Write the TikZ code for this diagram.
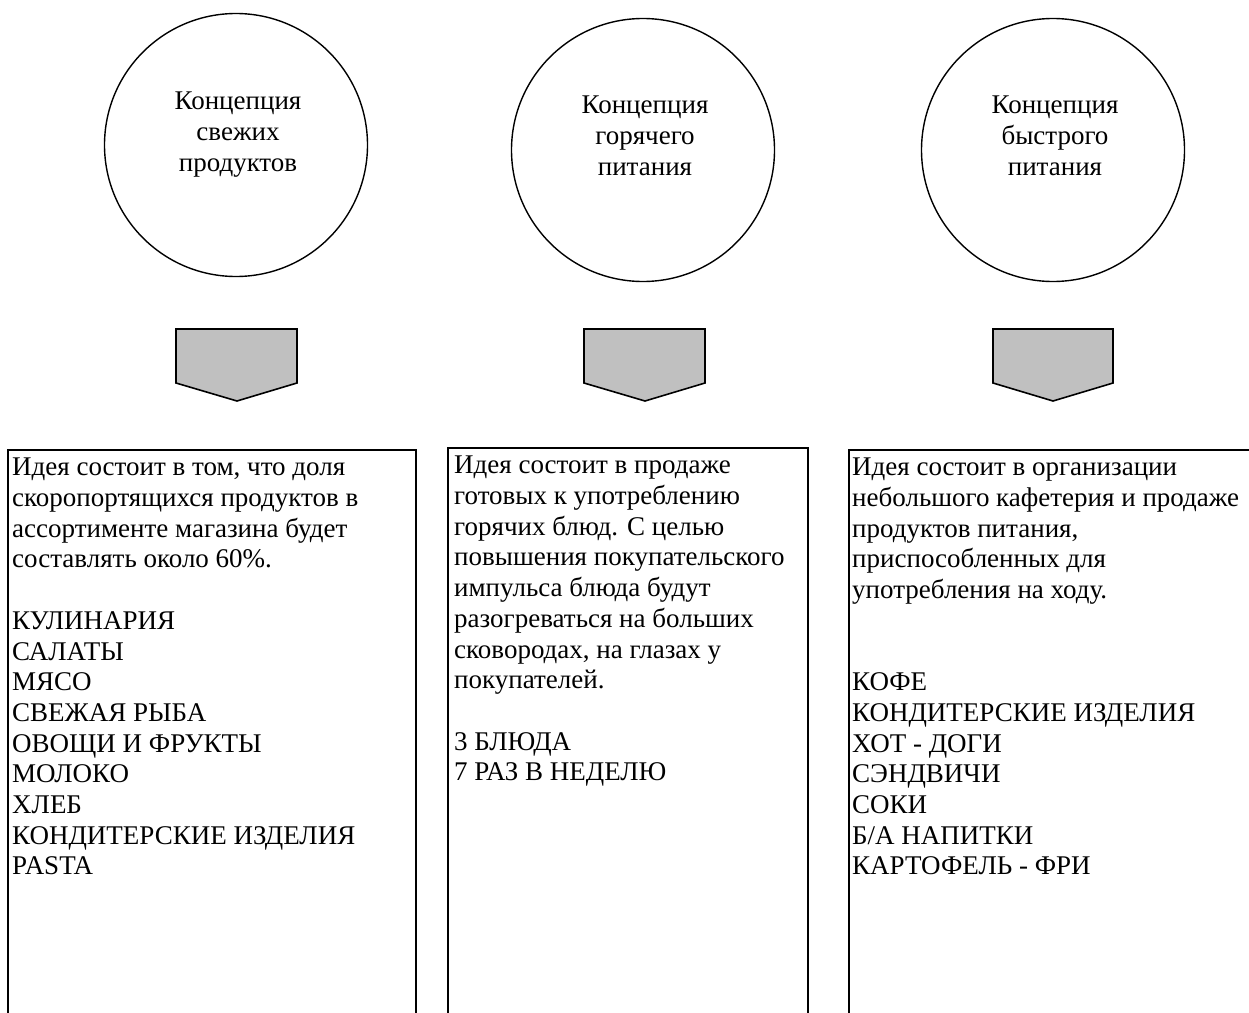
\documentclass[tikz,border=0pt]{standalone}
\usepackage{fontspec}
\setmainfont{Liberation Serif}
\definecolor{arrowgray}{HTML}{C0C0C0}
\begin{document}
\begin{tikzpicture}[x=1pt,y=-1pt,
  concept/.style={draw=black,line width=1.4pt,circle,minimum size=263pt,inner sep=0pt},
  ctext/.style={align=center,font=\fontsize{27}{31}\selectfont,inner sep=0pt},
  downarrow/.style={draw=black,fill=arrowgray,line width=1.6pt,line join=miter},
  ideabox/.style={draw=black,line width=1.6pt},
  btext/.style={align=left,anchor=north west,font=\fontsize{27}{30.7}\selectfont,inner sep=0pt}]
\useasboundingbox (0,0) rectangle (1249,1012);
% circles
\node[concept] (c1) at (236,145) {};
\node[concept] (c2) at (643,150) {};
\node[concept] (c3) at (1053,150) {};
\node[ctext] (t1) at (238,135) {Концепция\\свежих\\продуктов};
\node[ctext] (t2) at (645,136) {Концепция\\горячего\\питания};
\node[ctext] (t3) at (1055,136) {Концепция\\быстрого\\питания};
% down arrows
\draw[downarrow] (176,329) -- (297,329) -- (297,383) -- (237,401) -- (176,383) -- cycle;
\draw[downarrow] (584,329) -- (705,329) -- (705,383) -- (645,401) -- (584,383) -- cycle;
\draw[downarrow] (993,329) -- (1113,329) -- (1113,383) -- (1053,401) -- (993,383) -- cycle;
% boxes
\draw[ideabox] (8,450) rectangle (416,1040);
\draw[ideabox] (448,448) rectangle (808,1040);
\draw[ideabox] (849,450) rectangle (1270,1040);
\node[btext] (b1) at (12,458) {Идея состоит в том, что доля\\скоропортящихся продуктов в\\ассортименте магазина будет\\составлять около 60\%.\\[30.7pt]КУЛИНАРИЯ\\САЛАТЫ\\МЯСО\\СВЕЖАЯ РЫБА\\ОВОЩИ И ФРУКТЫ\\МОЛОКО\\ХЛЕБ\\КОНДИТЕРСКИЕ ИЗДЕЛИЯ\\PASTA};
\node[btext] (b2) at (454,456) {Идея состоит в продаже\\готовых к употреблению\\горячих блюд. С целью\\повышения покупательского\\импульса блюда будут\\разогреваться на больших\\сковородах, на глазах у\\покупателей.\\[30.7pt]3 БЛЮДА\\7 РАЗ В НЕДЕЛЮ};
\node[btext] (b3) at (852,458) {Идея состоит в организации\\небольшого кафетерия и продаже\\продуктов питания,\\приспособленных для\\употребления на ходу.\\[61.4pt]КОФЕ\\КОНДИТЕРСКИЕ ИЗДЕЛИЯ\\ХОТ - ДОГИ\\СЭНДВИЧИ\\СОКИ\\Б/А НАПИТКИ\\КАРТОФЕЛЬ - ФРИ};
\end{tikzpicture}
\end{document}
